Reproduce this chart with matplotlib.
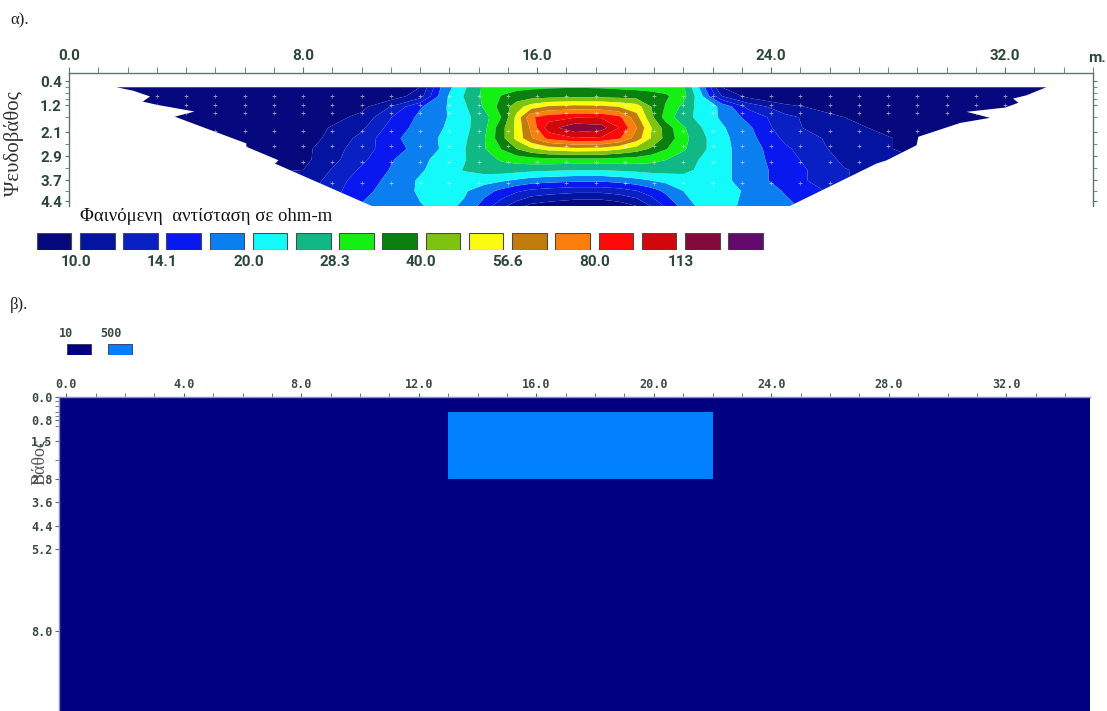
import numpy as np
import matplotlib
matplotlib.use("Agg")
import matplotlib.pyplot as plt
from matplotlib.patches import Polygon
from matplotlib.colors import ListedColormap, BoundaryNorm
from matplotlib.ticker import MultipleLocator, FixedLocator
from matplotlib.font_manager import FontProperties

# ---------------- Panel α : apparent resistivity pseudosection (ohm-m) ----------------
x_cols = [0, 4, 8, 10, 11, 12, 12.8, 13.5, 14.2, 14.8, 15.3, 15.8, 16.4, 17.3,
          18.2, 18.8, 19.4, 19.9, 20.4, 21.0, 21.6, 22.3, 23.2, 24.5, 26.5, 30, 35]
depth_rows = [0.60, 0.90, 1.25, 1.60, 1.95, 2.30, 2.65, 3.00, 3.35, 3.70, 4.05, 4.55]

rho_d060 = [7, 7, 7.5, 8, 8.5, 10, 18, 23, 29.5, 31, 32, 32.5, 33, 33.3, 33, 32.5, 32, 31.5, 31, 29, 19, 10, 8.5, 8, 7.5, 7, 7]
rho_d090 = [7.5, 7.5, 8, 8.5, 9, 11, 19, 24, 29.5, 34, 36, 37, 37.5, 38, 38, 37.5, 37, 36, 34.5, 30, 21, 12, 9.5, 8.5, 8, 7.5, 7]
rho_d125 = [7.5, 7.5, 8, 9.5, 12, 16.5, 19.5, 23, 29, 36, 44, 52, 58, 60, 59, 56, 52, 40, 33, 27, 22, 19.5, 13.5, 10.5, 9, 8, 7.5]
rho_d160 = [8, 8, 8.5, 10.5, 14, 17.5, 19.5, 22.5, 26.5, 34, 50, 78, 88, 94, 93, 84, 60, 42, 31, 25.5, 22.5, 19.5, 16, 12.5, 10, 8.5, 8]
rho_d195 = [8.5, 8.5, 9, 11.5, 15, 18, 20, 22.5, 27, 38, 50, 70, 105, 128, 122, 95, 68, 48, 37, 29, 24, 20.5, 17.5, 12.5, 10.5, 8.5, 8.5]
rho_d230 = [9, 9, 9, 12.5, 16, 18.5, 20.5, 23, 28, 38, 50, 66, 84, 94, 92, 82, 62, 47, 38, 30, 25, 21, 18, 13.5, 11, 9, 8.5]
rho_d265 = [9, 9, 9.5, 13, 15.5, 18, 20.5, 23.5, 28, 34, 40, 46, 51, 54, 53, 49, 44, 39, 34, 29, 25, 21, 18.5, 14.5, 11, 9, 9]
rho_d300 = [9.5, 9.5, 9.5, 13.5, 16.5, 19, 21.5, 23.5, 26.5, 29, 30.5, 31.5, 32, 32, 32, 31.5, 31, 30, 28.5, 26, 23.5, 21, 18.5, 15, 11.5, 9.5, 9]
rho_d335 = [9.5, 9.5, 10, 14.5, 17, 19.5, 22, 24, 25.5, 26, 25.5, 25, 24.5, 24, 24, 24.5, 25, 25.5, 25.5, 25, 23, 21, 18.5, 15.5, 12, 10, 9.5]
rho_d370 = [10, 10, 10.5, 15.5, 17.5, 20.5, 22, 22.5, 21.5, 20.5, 19.5, 18.5, 18, 17.5, 17.5, 18, 19, 20, 21, 22, 22.5, 21, 18.5, 15.5, 12, 10.5, 10]
rho_d405 = [10, 10, 11, 16, 18, 20.5, 21.5, 20.5, 18, 16, 14.5, 13.5, 13, 12.5, 12.5, 13, 14, 15.5, 17.5, 20, 21.5, 21.5, 19.5, 16.5, 13, 11, 10]
rho_d455 = [10, 10, 12, 17, 18.5, 19.8, 21, 19.5, 15.5, 12.5, 10.8, 9.5, 9, 8.5, 8.5, 9, 10, 12, 14.5, 18, 21, 21.5, 19, 17.5, 14, 11, 10]

# data coverage outline of the pseudosection (x, pseudo-depth)
coverage_left = [(1.61, 0.60), (2.2, 0.72), (2.77, 0.91), (2.52, 1.08), (3.02, 1.19), (4.29, 1.41),
                 (3.62, 1.58), (3.75, 1.63), (6.06, 2.47), (6.06, 2.58), (7.16, 3.03), (7.04, 3.14),
                 (10.35, 4.55)]
coverage_right = [(24.64, 4.55), (27.6, 3.14), (27.95, 3.03), (28.97, 2.53), (29.03, 2.25),
                  (30.46, 1.79), (31.48, 1.62), (30.68, 1.42), (31.99, 1.28), (32.45, 1.12),
                  (32.27, 0.98), (32.73, 0.87), (33.41, 0.60)]
data_levels = [0.9, 1.2, 1.45, 2.05, 2.55, 3.1, 3.8]
electrode_x = list(range(1, 35))

contour_levels = [10.0, 11.9, 14.1, 16.8, 20.0, 23.8, 28.3, 33.6, 40.0, 47.6, 56.6, 67.3,
                  80.0, 95.1, 113.0, 134.5]
level_colors = ['#06087d', '#0414a0', '#0820c4', '#0a18f0', '#0c7ff0', '#14fafa', '#0fb884',
                '#14f014', '#0a800f', '#7ec30e', '#fafa12', '#c07c0c', '#fc7f0e', '#fc0a0a',
                '#d0080a', '#84093c', '#640a6e']
level_labels = ['10.0', '14.1', '20.0', '28.3', '40.0', '56.6', '80.0', '113']
xticks_a = [0, 8, 16, 24, 32]
yticks_a = [0.4, 1.2, 2.1, 2.9, 3.7, 4.4]
yminor_a = [0.6, 0.8, 1.0, 1.6, 2.5, 3.3, 4.05]

# ---------------- Panel β : model ----------------
model_x_edges = [-0.25, 13.0, 22.0, 34.85]
model_depth_edges = [0.0, 0.52, 2.8, 10.75]
model_rho = [[10, 10, 10], [10, 500, 10], [10, 10, 10]]
model_values = [10, 500]
model_colors = ['#000080', '#0080ff']
xticks_b = [0, 4, 8, 12, 16, 20, 24, 28, 32]
yticks_b = [0.0, 0.8, 1.5, 2.8, 3.6, 4.4, 5.2, 8.0]
yminor_b = [0.15, 0.3, 0.5, 0.65, 1.0, 2.15]

# ---------------- drawing ----------------
W, H = 1107, 711
fig = plt.figure(figsize=(W / 100, H / 100), dpi=100)


def box(l, t, r, b):
    return [l / W, 1 - b / H, (r - l) / W, (b - t) / H]


tick_col = '#2c463a'
spine_col = '#5a7868'
serif = ['Liberation Serif', 'DejaVu Serif']
fp_a = FontProperties(family=['Roboto', 'DejaVu Sans'], weight='bold', size=11)
fp_b = FontProperties(family=['DejaVu Sans Mono'], weight='bold', size=8.5)

# Panel α
axA = fig.add_axes(box(69, 73, 1093, 206))
Z = np.log10(np.array([rho_d060, rho_d090, rho_d125, rho_d160, rho_d195, rho_d230,
                       rho_d265, rho_d300, rho_d335, rho_d370, rho_d405, rho_d455]))
lev = np.log10([0.1] + contour_levels + [1e4])
cs = axA.contourf(x_cols, depth_rows, Z, levels=lev, colors=level_colors, antialiased=True)
poly = Polygon(coverage_left + coverage_right, closed=True, transform=axA.transData,
               facecolor='none', edgecolor='none')
axA.add_patch(poly)
cs.set_clip_path(poly)
ex, ed = np.meshgrid(electrode_x, data_levels)
pts = axA.scatter(ex.ravel(), ed.ravel(), marker='+', s=6, c='white', linewidths=0.5, alpha=0.55)
pts.set_clip_path(poly)

axA.set_xlim(0, 35)
axA.set_ylim(4.55, 0.13)
axA.spines['bottom'].set_visible(False)
for s in ['top', 'left', 'right']:
    axA.spines[s].set_color(spine_col)
    axA.spines[s].set_linewidth(1.0)
axA.xaxis.tick_top()
axA.set_xticks(xticks_a)
axA.set_xticklabels([f'{v:.1f}' for v in xticks_a])
axA.xaxis.set_minor_locator(MultipleLocator(1))
axA.set_yticks(yticks_a)
axA.set_yticklabels([f'{v:.1f}' for v in yticks_a])
axA.yaxis.set_minor_locator(FixedLocator(yminor_a))
axA.tick_params(axis='x', which='both', direction='out', length=4, color=spine_col,
                labelcolor=tick_col, pad=3)
axA.tick_params(axis='y', which='both', direction='out', length=3, color=spine_col,
                labelcolor=tick_col, pad=2, right=True)
for lab in axA.get_xticklabels() + axA.get_yticklabels():
    lab.set_fontproperties(fp_a)

fig.text(1097 / W, 1 - 58 / H, 'm.', ha='center', va='center', fontproperties=fp_a, color=tick_col)
fig.text(10 / W, 1 - 20 / H, 'α).', ha='left', va='center', family=serif, fontsize=12, color='#222')
fig.text(14 / W, 1 - 144 / H, 'Ψευδοβάθος', rotation=90, ha='center', va='center',
         family=serif, fontsize=15, color='#333')
fig.text(80 / W, 1 - 216 / H, 'Φαινόμενη  αντίσταση σε ohm-m', ha='left', va='center',
         family=serif, fontsize=13.5, color='#111')

# colour scale boxes
axC = fig.add_axes(box(32.4, 233, 767.1, 250))
idx = np.arange(len(level_colors))
axC.bar(idx + 0.5, np.ones(len(level_colors)), width=0.8, color=level_colors,
        edgecolor='#4a4a4a', linewidth=0.8)
axC.set_xlim(0, len(level_colors))
axC.set_ylim(0, 1)
axC.axis('off')
for k, lab in enumerate(level_labels):
    axC.text(2 * k + 1, -0.3, lab, ha='center', va='top', fontproperties=fp_a, color=tick_col)

# Panel β
axB = fig.add_axes(box(59, 397, 1090, 711))
axB.pcolormesh(model_x_edges, model_depth_edges, model_rho,
               cmap=ListedColormap(model_colors), norm=BoundaryNorm([0, 100, 1000], 2))
axB.set_xlim(model_x_edges[0], model_x_edges[-1])
axB.set_ylim(10.75, 0)
for s in ['bottom', 'right']:
    axB.spines[s].set_visible(False)
for s in ['top', 'left']:
    axB.spines[s].set_color('#8c8cd0')
    axB.spines[s].set_linewidth(1.0)
axB.xaxis.tick_top()
axB.set_xticks(xticks_b)
axB.set_xticklabels([f'{v:.1f}' for v in xticks_b])
axB.xaxis.set_minor_locator(MultipleLocator(1))
axB.set_yticks(yticks_b)
axB.set_yticklabels([f'{v:.1f}' for v in yticks_b])
axB.yaxis.set_minor_locator(FixedLocator(yminor_b))
axB.tick_params(axis='both', which='both', direction='out', length=3, color='#5a6a6a',
                labelcolor='#3a4a44', pad=1.5)
for lab in axB.get_xticklabels() + axB.get_yticklabels():
    lab.set_fontproperties(fp_b)

fig.text(10 / W, 1 - 305 / H, 'β).', ha='left', va='center', family=serif, fontsize=12, color='#222')
fig.text(40 / W, 1 - 462 / H, 'Βάθος', rotation=90, ha='center', va='center',
         family=serif, fontsize=13, color='#555')

# model legend
axL = fig.add_axes(box(58.5, 344, 140.5, 355))
axL.bar(np.arange(len(model_colors)) + 0.5, np.ones(len(model_colors)), width=0.6,
        color=model_colors, edgecolor='#303060', linewidth=0.6)
axL.set_xlim(0, len(model_colors))
axL.set_ylim(0, 1)
axL.axis('off')
for k, v in enumerate(model_values):
    axL.text(k + 0.02, 1.35, str(v), ha='left', va='bottom', fontproperties=fp_b, color='#3a4a44')

fig.savefig('out.png', dpi=100)
